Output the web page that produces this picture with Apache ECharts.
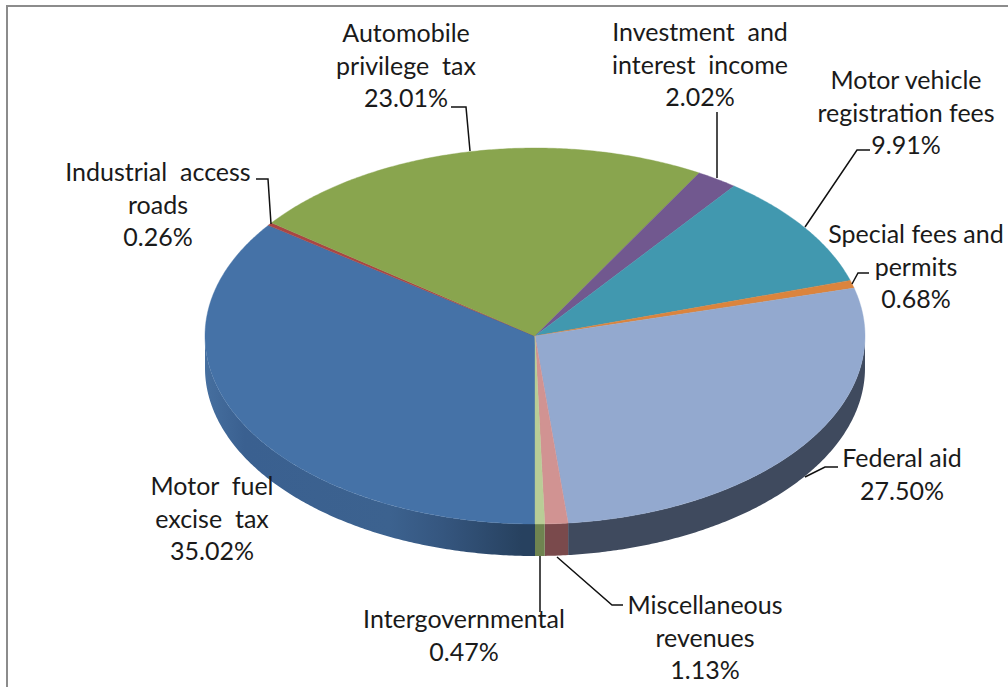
<!DOCTYPE html>
<html>
<head>
<meta charset="utf-8">
<style>html,body{margin:0;padding:0;background:#fff}#c{width:1008px;height:687px}svg text{font-variant-ligatures:none}</style>
<script src="https://cdn.jsdelivr.net/npm/echarts@6/dist/echarts.min.js"></script>
</head>
<body>
<div id="c"></div>
<script>
var categories = ['Motor fuel excise tax','Industrial access roads','Automobile privilege tax','Investment and interest income','Motor vehicle registration fees','Special fees and permits','Federal aid','Miscellaneous revenues','Intergovernmental'];
var values = [35.02,0.26,23.01,2.02,9.91,0.68,27.50,1.13,0.47];
var valueLabels = ['35.02%','0.26%','23.01%','2.02%','9.91%','0.68%','27.50%','1.13%','0.47%'];
var nameLines = [['Motor  fuel','excise  tax'],['Industrial  access','roads'],['Automobile','privilege  tax'],['Investment  and','interest  income'],['Motor vehicle','registration fees'],['Special fees and','permits'],['Federal aid'],['Miscellaneous','revenues'],['Intergovernmental']];
var colors = ['#4572a7','#aa4643','#89a54e','#71588f','#4198af','#db843d','#93a9cf','#d19392','#b9cd96'];
var wallStops = {
  0:[[0,'#466f9f'],[0.06,'#3a6090'],[0.28,'#3c628f'],[0.36,'#35567f'],[0.48,'#27415f']],
  6:[[0,'#3f4a5e'],[1,'#3f4a5e']],
  7:[[0,'#7a4a4c'],[1,'#7a4a4c']],
  8:[[0,'#6f8450'],[1,'#6f8450']]
};
var labelCenters = [[212,485],[158,171],[406,32],[700,31],[906,79],[916,233],[902,457],[705,604],[464,618]];
var leaders = [[],[[256,179],[268,179],[271,224]],[[451,107],[466,107],[470,151]],[[717,112],[717,178]],[[870,150],[857,150],[805,227]],[[869,273],[858,273],[852,284]],[[838,467],[825,467],[805,477]],[[623,605],[612,605],[557,557]],[[540,556],[540,612]]];

var CX=535, CY=336, RX=330, RY=188, DEPTH=32, LH=32.7, START=90;
var total = values.reduce(function(a,b){return a+b;},0);
var ranges = []; (function(){var s=START; values.forEach(function(v){var e=s+v/total*360; ranges.push([s,e]); s=e;});})();
function pt(t,dy){var r=t*Math.PI/180; return [CX+RX*Math.cos(r), CY+RY*Math.sin(r)+(dy||0)];}
function arc(a,b,dy){var n=Math.max(2,Math.ceil(Math.abs(b-a)*2)),o=[];for(var i=0;i<=n;i++)o.push(pt(a+(b-a)*i/n,dy));return o;}
function wallFill(i){
  var stops=(wallStops[i]||[[0,'#334'],[1,'#334']]).map(function(s){return {offset:s[0],color:s[1]};});
  return new echarts.graphic.LinearGradient(CX-RX,0,CX+RX,0,stops,true);
}
function renderItem(params,api){
  var i=api.value(0), r=ranges[i], ch=[];
  // front wall: the part of the slice's sweep inside 0..180 (also after wrapping past 360)
  [0,360].forEach(function(off){
    var wa=Math.max(r[0]-off,0), wb=Math.min(r[1]-off,180);
    if(wb>wa){
      ch.push({type:'polygon',shape:{points:arc(wa,wb,0).concat(arc(wb,wa,DEPTH))},style:{fill:wallFill(i)},z2:1});
    }
  });
  var top=[[CX,CY]].concat(arc(r[0],r[1],0));
  ch.push({type:'polygon',shape:{points:top},style:{fill:colors[i],stroke:colors[i],lineWidth:0.4},z2:5});
  if(leaders[i].length){
    ch.push({type:'polyline',shape:{points:leaders[i]},style:{stroke:'#111',lineWidth:1.5,fill:null},z2:8});
  }
  var lines=nameLines[i].concat([valueLabels[i]]), c=labelCenters[i];
  lines.forEach(function(t,k){
    ch.push({type:'text',z2:10,style:{text:t,x:c[0],y:c[1]+k*LH,align:'center',verticalAlign:'middle',fill:'#1a1a1a',font:'25px Lato'}});
  });
  return {type:'group',children:ch};
}
var chart=echarts.init(document.getElementById('c'),null,{renderer:'svg'});
chart.setOption({
  animation:false,
  backgroundColor:'#fff',
  tooltip:{show:false},
  series:[{
    type:'custom',
    coordinateSystem:'none',
    renderItem:renderItem,
    clip:false,
    silent:true,
    data:categories.map(function(n,i){return {name:n,value:[i,values[i]]};})
  }],
  graphic:[{type:'polyline',shape:{points:[[7,687],[7,6],[1008,6]]},style:{stroke:'#8c8c8c',lineWidth:2,fill:null},silent:true}]
});
</script>
</body>
</html>
